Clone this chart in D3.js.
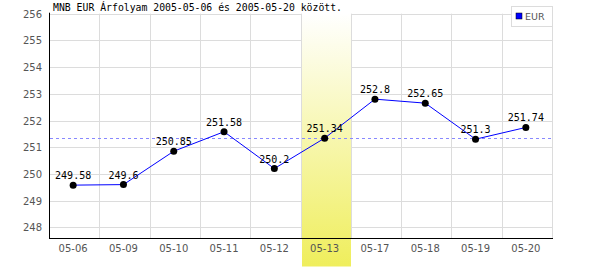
<!DOCTYPE html>
<html>
<head>
<meta charset="utf-8">
<script src="https://cdn.jsdelivr.net/npm/d3@7"></script>
<style>
  body { margin: 0; background: #fff; }
  svg { display: block; }
</style>
</head>
<body>
<script>
const dates = ['05-06', '05-09', '05-10', '05-11', '05-12', '05-13', '05-17', '05-18', '05-19', '05-20'];
const rates = [249.58, 249.6, 250.85, 251.58, 250.2, 251.34, 252.8, 252.65, 251.3, 251.74];
const yTicks = [248, 249, 250, 251, 252, 253, 254, 255, 256];
const highlightDate = '05-13';
const title = 'MNB EUR Árfolyam 2005-05-06 és 2005-05-20 között.';
const seriesName = 'EUR';

const main = () => {
  const width = 600;
  const height = 270;
  const plotLeft = 49;
  const plotRight = 552;
  const plotTop = 13.7;
  const plotBottom = 238;

  const svg = d3.select('body').append('svg').attr('width', width).attr('height', height);

  const x = d3.scaleBand().domain(dates).range([plotLeft, plotRight]).padding(0);
  const y = d3.scaleLinear().domain([247.6, 256]).range([plotBottom, plotTop]);

  const defs = svg.append('defs');
  const grad = defs.append('linearGradient').attr('id', 'hl').attr('x1', 0).attr('y1', 0).attr('x2', 0).attr('y2', 1);
  grad.append('stop').attr('offset', '0%').attr('stop-color', '#ffffff');
  grad.append('stop').attr('offset', '100%').attr('stop-color', '#efee5c');

  // grid
  svg.append('g').selectAll('line').data(yTicks).join('line')
    .attr('x1', plotLeft).attr('x2', plotRight)
    .attr('y1', (d) => Math.round(y(d)) + 0.5).attr('y2', (d) => Math.round(y(d)) + 0.5)
    .attr('stroke', '#dcdcdc');

  const vLines = dates.map((d) => x(d) + x.bandwidth());
  svg.append('g').selectAll('line').data(vLines).join('line')
    .attr('x1', (d) => Math.round(d) + 0.5).attr('x2', (d) => Math.round(d) + 0.5)
    .attr('y1', plotTop).attr('y2', plotBottom)
    .attr('stroke', '#dcdcdc');

  // highlighted day
  svg.append('rect')
    .attr('x', Math.round(x(highlightDate)) + 1)
    .attr('y', plotTop - 0.5)
    .attr('width', Math.round(x.bandwidth()) - 1)
    .attr('height', 267 - plotTop)
    .attr('fill', 'url(#hl)');

  // axes
  svg.append('line').attr('x1', plotLeft + 0.5).attr('x2', plotLeft + 0.5).attr('y1', plotTop - 1).attr('y2', plotBottom + 0.5)
    .attr('stroke', '#000');
  svg.append('line').attr('x1', plotLeft).attr('x2', plotRight + 1).attr('y1', plotBottom + 0.5).attr('y2', plotBottom + 0.5)
    .attr('stroke', '#000');

  svg.append('g').selectAll('text').data(yTicks).join('text')
    .attr('x', 42).attr('y', (d) => y(d) + 4)
    .attr('text-anchor', 'end')
    .attr('font-family', 'DejaVu Sans')
    .attr('font-size', 10)
    .attr('fill', '#555')
    .text((d) => d);

  svg.append('g').selectAll('text').data(dates).join('text')
    .attr('x', (d) => x(d) + x.bandwidth() / 2 - 1).attr('y', 252)
    .attr('text-anchor', 'middle')
    .attr('font-family', 'DejaVu Sans')
    .attr('font-size', 10)
    .attr('fill', '#555')
    .text((d) => d);

  // reference line at highlighted value
  const hlValue = rates[dates.indexOf(highlightDate)];
  svg.append('line')
    .attr('x1', plotLeft + 1).attr('x2', plotRight)
    .attr('y1', Math.round(y(hlValue)) + 0.5).attr('y2', Math.round(y(hlValue)) + 0.5)
    .attr('stroke', '#8888ff').attr('stroke-dasharray', '3,3');

  // series
  const cx = (d, i) => x(dates[i]) + x.bandwidth() / 2 - 1;
  const line = d3.line().x((d, i) => cx(d, i)).y((d) => y(d));
  svg.append('path').datum(rates)
    .attr('d', line)
    .attr('fill', 'none')
    .attr('stroke', '#0000ff')
    .attr('stroke-width', 1);

  svg.append('g').selectAll('circle').data(rates).join('circle')
    .attr('cx', cx).attr('cy', (d) => y(d))
    .attr('r', 3.5)
    .attr('fill', '#000');

  svg.append('g').selectAll('text').data(rates).join('text')
    .attr('x', cx).attr('y', (d) => y(d) - 6)
    .attr('text-anchor', 'middle')
    .attr('font-family', 'DejaVu Sans Mono')
    .attr('font-size', 10)
    .attr('fill', '#000')
    .text((d) => d);

  // title
  svg.append('text')
    .attr('x', 53).attr('y', 11)
    .attr('font-family', 'DejaVu Sans Mono')
    .attr('font-size', 9.8)
    .attr('fill', '#000')
    .text(title);

  // legend
  svg.append('rect').attr('x', 511.5).attr('y', 6.5).attr('width', 41).attr('height', 20)
    .attr('fill', '#fff').attr('stroke', '#dcdcdc');
  svg.append('rect').attr('x', 516).attr('y', 13).attr('width', 6).attr('height', 6)
    .attr('fill', '#0000ff').attr('stroke', '#000').attr('stroke-width', 0.5);
  svg.append('text').attr('x', 525).attr('y', 20)
    .attr('font-family', 'DejaVu Sans')
    .attr('font-size', 9.5)
    .attr('fill', '#555')
    .text(seriesName);
};

main();
</script>
</body>
</html>
